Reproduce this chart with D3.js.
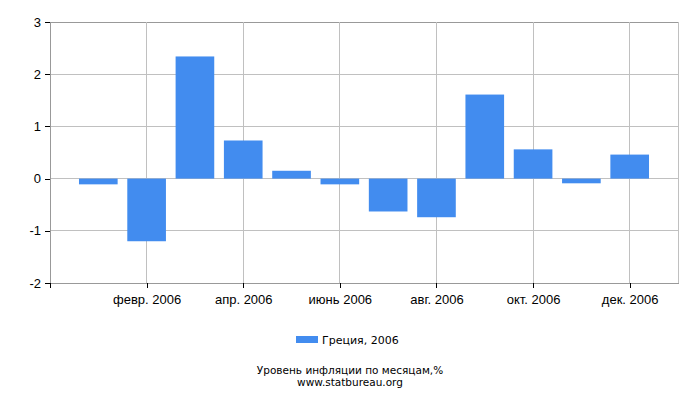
<!DOCTYPE html>
<html>
<head>
<meta charset="utf-8">
<script src="https://cdn.jsdelivr.net/npm/d3@7"></script>
<style>
  body { margin: 0; background: #fff; }
  svg { font-family: "DejaVu Sans", sans-serif; }
  .axis path { stroke: #999; }
  .axis line { stroke: #000; }
  .axis text { fill: #000; font-size: 13px; }
</style>
</head>
<body>
<svg id="chart" width="700" height="400"></svg>
<script>
// months of 2006
var months = ["янв. 2006", "февр. 2006", "март 2006", "апр. 2006", "май 2006", "июнь 2006",
              "июль 2006", "авг. 2006", "сент. 2006", "окт. 2006", "нояб. 2006", "дек. 2006"];
var values = [-0.11, -1.2, 2.34, 0.73, 0.15, -0.11, -0.63, -0.74, 1.61, 0.56, -0.09, 0.46];
var tickMonths = ["февр. 2006", "апр. 2006", "июнь 2006", "авг. 2006", "окт. 2006", "дек. 2006"];
var yTicks = [-2, -1, 0, 1, 2, 3];
var seriesName = "Греция, 2006";
var title = "Уровень инфляции по месяцам,%";
var source = "www.statbureau.org";

var svg = d3.select("#chart");
var margin = {top: 22, right: 22, bottom: 117, left: 50},
    width = 700 - margin.left - margin.right,
    height = 400 - margin.top - margin.bottom;

var g = svg.append("g").attr("transform", "translate(" + margin.left + "," + margin.top + ")");

var x = d3.scalePoint().domain(months).range([0, width]).padding(1);
var y = d3.scaleLinear().domain([-2, 3]).range([height, 0]);
var barW = x.step() * 0.8;

// grid
g.append("g").selectAll("line").data(yTicks).enter().append("line")
    .attr("x1", 0).attr("x2", width)
    .attr("y1", function(d) { return y(d); }).attr("y2", function(d) { return y(d); })
    .attr("stroke", function(d) { return d == 3 ? "#999" : "#c0c0c0"; })
    .attr("shape-rendering", "crispEdges");

g.append("g").selectAll("line").data(tickMonths).enter().append("line")
    .attr("x1", function(d) { return x(d); }).attr("x2", function(d) { return x(d); })
    .attr("y1", 0).attr("y2", height)
    .attr("stroke", "#c0c0c0")
    .attr("shape-rendering", "crispEdges");

g.append("line")
    .attr("x1", width).attr("x2", width).attr("y1", 0).attr("y2", height)
    .attr("stroke", "#c0c0c0").attr("shape-rendering", "crispEdges");

// bars
g.append("g").selectAll("rect").data(values).enter().append("rect")
    .attr("x", function(d, i) { return x(months[i]) - barW / 2; })
    .attr("y", function(d) { return y(Math.max(0, d)); })
    .attr("width", barW)
    .attr("height", function(d) { return Math.abs(y(d) - y(0)); })
    .attr("fill", "#428cef");

// axes
g.append("g")
    .attr("class", "axis")
    .attr("transform", "translate(0," + height + ")")
    .call(d3.axisBottom(x).tickValues(tickMonths).tickSize(5).tickSizeOuter(0).tickPadding(7));

g.append("g")
    .attr("class", "axis")
    .call(d3.axisLeft(y).tickValues(yTicks).tickSize(5).tickSizeOuter(0).tickPadding(4)
      .tickFormat(function(d) { return String(d); }));

g.selectAll(".axis line, .axis path").attr("shape-rendering", "crispEdges");

// extra tick under left edge
g.append("line")
    .attr("x1", 0).attr("x2", 0).attr("y1", height).attr("y2", height + 5)
    .attr("stroke", "#000").attr("shape-rendering", "crispEdges");

// legend
var legend = svg.append("g").attr("transform", "translate(296,336)");
legend.append("rect").attr("width", 22).attr("height", 7).attr("fill", "#428cef");
legend.append("text").attr("x", 26).attr("y", 8)
    .attr("font-size", 11).attr("fill", "#000").text(seriesName);

svg.append("text").attr("x", 350).attr("y", 373.5).attr("text-anchor", "middle")
    .attr("font-size", 10.5).attr("fill", "#000").text(title);
svg.append("text").attr("x", 350).attr("y", 386).attr("text-anchor", "middle")
    .attr("font-size", 10.5).attr("fill", "#000").text(source);
</script>
</body>
</html>
